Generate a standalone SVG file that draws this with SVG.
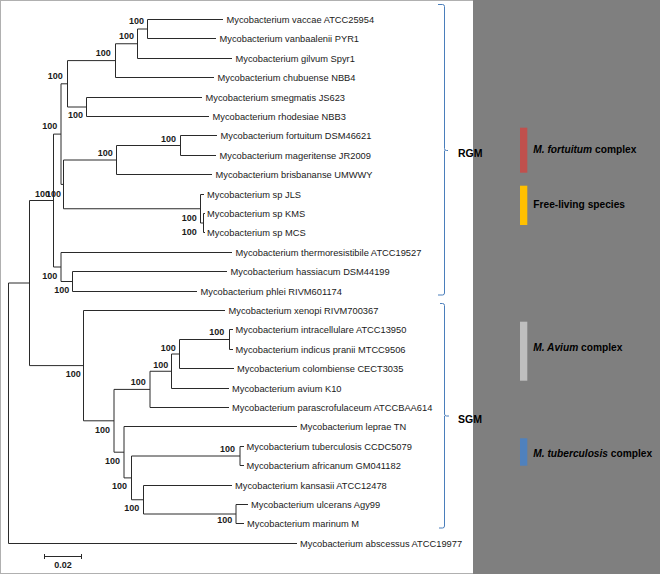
<svg xmlns="http://www.w3.org/2000/svg" width="660" height="574" viewBox="0 0 660 574">
<style>
.br{fill:none;stroke:#2a2a2a;stroke-width:1}
.sp{font-family:"Liberation Sans",Arial,sans-serif;font-size:9.3px;fill:#1a1a1a}
.bs{font-family:"Liberation Sans",Arial,sans-serif;font-size:9px;font-weight:bold;fill:#1a1a1a;text-anchor:end}
.brk{fill:none;stroke:#4a7ebb;stroke-width:1}
.grp{font-family:"Liberation Sans",Arial,sans-serif;font-size:10.5px;font-weight:bold;fill:#000}
.lg{font-family:"Liberation Sans",Arial,sans-serif;font-size:10.2px;font-weight:bold;fill:#000}
</style>
<rect x="0" y="0" width="660" height="574" fill="#ffffff"/>
<rect x="0.5" y="0.5" width="473" height="573" fill="none" stroke="#b0b0b0" stroke-width="1"/>
<rect id="panel" x="473" y="0" width="187" height="574" fill="#7f7f7f"/>

<g id="connectors">
<path class="br" d="M147.5 19.5V38.5M147.5 19.5H223M147.5 38.5H216"/>
<path class="br" d="M137.5 29V58.5M137.5 29H147.5M137.5 58.5H232"/>
<path class="br" d="M115.5 43.75V77.5M115.5 43.75H137.5M115.5 77.5H214"/>
<path class="br" d="M86.5 97.5V116.5M86.5 97.5H202M86.5 116.5H209"/>
<path class="br" d="M67.5 60.6V107M67.5 60.6H115.5M67.5 107H86.5"/>
<path class="br" d="M180.5 135.5V155.5M180.5 135.5H217M180.5 155.5H216"/>
<path class="br" d="M116.5 145.5V174.5M116.5 145.5H180.5M116.5 174.5H212"/>
<path class="br" d="M203.5 213.5V232.5M203.5 213.5H205M203.5 232.5H205"/>
<path class="br" d="M200.5 194.5V223M200.5 194.5H204M200.5 223H203.5"/>
<path class="br" d="M63.5 160V208.75M63.5 160H116.5M63.5 208.75H200.5"/>
<path class="br" d="M61 83.8V184.4M61 83.8H67.5M61 184.4H63.5"/>
<path class="br" d="M72.5 271.5V291.5M72.5 271.5H227M72.5 291.5H197"/>
<path class="br" d="M61 252.5V281.5M61 252.5H232M61 281.5H72.5"/>
<path class="br" d="M53.5 134.1V267M53.5 134.1H61M53.5 267H61"/>
<path class="br" d="M229.5 329.5V349.5M229.5 329.5H233M229.5 349.5H233"/>
<path class="br" d="M179.5 339.5V368.5M179.5 339.5H229.5M179.5 368.5H234"/>
<path class="br" d="M171.5 354V388.5M171.5 354H179.5M171.5 388.5H229"/>
<path class="br" d="M150 371.25V407.5M150 371.25H171.5M150 407.5H229"/>
<path class="br" d="M240 446.5V465.5M240 446.5H244M240 465.5H244"/>
<path class="br" d="M236 504.5V523.5M236 504.5H248M236 523.5H244"/>
<path class="br" d="M143.5 485.5V514M143.5 485.5H232M143.5 514H236"/>
<path class="br" d="M131.5 456V499.75M131.5 456H240M131.5 499.75H143.5"/>
<path class="br" d="M124 426.5V477.9M124 426.5H297M124 477.9H131.5"/>
<path class="br" d="M114 389.4V452.2M114 389.4H150M114 452.2H124"/>
<path class="br" d="M83.5 310.5V420.8M83.5 310.5H225M83.5 420.8H114"/>
<path class="br" d="M29.5 200.5V365.6M29.5 200.5H53.5M29.5 365.6H83.5"/>
<path class="br" d="M8.5 283V543.5M8.5 283H29.5M8.5 543.5H297"/>
</g>

<g id="leaves">
<g id="leaf-vaccae"><text class="sp" x="226.5" y="22.8">Mycobacterium vaccae ATCC25954</text></g>
<g id="leaf-vanbaalenii"><text class="sp" x="219.5" y="41.8">Mycobacterium vanbaalenii PYR1</text></g>
<g id="leaf-gilvum"><text class="sp" x="235.5" y="61.8">Mycobacterium gilvum Spyr1</text></g>
<g id="leaf-chubuense"><text class="sp" x="217.5" y="80.8">Mycobacterium chubuense NBB4</text></g>
<g id="leaf-smegmatis"><text class="sp" x="205.5" y="100.8">Mycobacterium smegmatis JS623</text></g>
<g id="leaf-rhodesiae"><text class="sp" x="212.5" y="119.8">Mycobacterium rhodesiae NBB3</text></g>
<g id="leaf-fortuitum"><text class="sp" x="220.5" y="138.8">Mycobacterium fortuitum DSM46621</text></g>
<g id="leaf-mageritense"><text class="sp" x="219.5" y="158.8">Mycobacterium mageritense JR2009</text></g>
<g id="leaf-brisbananse"><text class="sp" x="215.5" y="177.8">Mycobacterium brisbananse UMWWY</text></g>
<g id="leaf-spJLS"><text class="sp" x="207" y="197.8">Mycobacterium sp JLS</text></g>
<g id="leaf-spKMS"><text class="sp" x="207" y="216.8">Mycobacterium sp KMS</text></g>
<g id="leaf-spMCS"><text class="sp" x="207" y="235.8">Mycobacterium sp MCS</text></g>
<g id="leaf-thermoresistibile"><text class="sp" x="235.5" y="255.8">Mycobacterium thermoresistibile ATCC19527</text></g>
<g id="leaf-hassiacum"><text class="sp" x="230.5" y="274.8">Mycobacterium hassiacum DSM44199</text></g>
<g id="leaf-phlei"><text class="sp" x="200.5" y="294.8">Mycobacterium phlei RIVM601174</text></g>
<g id="leaf-xenopi"><text class="sp" x="228.5" y="313.8">Mycobacterium xenopi RIVM700367</text></g>
<g id="leaf-intracellulare"><text class="sp" x="235.5" y="332.8">Mycobacterium intracellulare ATCC13950</text></g>
<g id="leaf-indicus"><text class="sp" x="235.5" y="352.8">Mycobacterium indicus pranii MTCC9506</text></g>
<g id="leaf-colombiense"><text class="sp" x="237" y="371.8">Mycobacterium colombiense CECT3035</text></g>
<g id="leaf-avium"><text class="sp" x="232" y="391.8">Mycobacterium avium K10</text></g>
<g id="leaf-parascrofulaceum"><text class="sp" x="232" y="410.8">Mycobacterium parascrofulaceum ATCCBAA614</text></g>
<g id="leaf-leprae"><text class="sp" x="300" y="429.8">Mycobacterium leprae TN</text></g>
<g id="leaf-tuberculosis"><text class="sp" x="246.5" y="449.8">Mycobacterium tuberculosis CCDC5079</text></g>
<g id="leaf-africanum"><text class="sp" x="246.5" y="468.8">Mycobacterium africanum GM041182</text></g>
<g id="leaf-kansasii"><text class="sp" x="235" y="488.8">Mycobacterium kansasii ATCC12478</text></g>
<g id="leaf-ulcerans"><text class="sp" x="251" y="507.8">Mycobacterium ulcerans Agy99</text></g>
<g id="leaf-marinum"><text class="sp" x="247" y="526.8">Mycobacterium marinum M</text></g>
<g id="leaf-abscessus"><text class="sp" x="300" y="546.8">Mycobacterium abscessus ATCC19977</text></g>
</g>

<g id="bootstrap">
<g id="node-A"><text class="bs" x="144" y="24">100</text></g>
<g id="node-B"><text class="bs" x="134" y="38.5">100</text></g>
<g id="node-C"><text class="bs" x="110.7" y="56">100</text></g>
<g id="node-D"><text class="bs" x="83" y="118">100</text></g>
<g id="node-E"><text class="bs" x="62.7" y="79">100</text></g>
<g id="node-F"><text class="bs" x="57.3" y="129">100</text></g>
<g id="node-G"><text class="bs" x="176" y="141.5">100</text></g>
<g id="node-H"><text class="bs" x="112.7" y="156">100</text></g>
<g id="node-J"><text class="bs" x="196.7" y="220.7">100</text></g>
<g id="node-I"><text class="bs" x="196.7" y="235">100</text></g>
<g id="node-L"><text class="bs" x="50" y="196.7">100</text></g>
<g id="node-K"><text class="bs" x="61" y="196.7">100</text></g>
<g id="node-N"><text class="bs" x="57.3" y="279">100</text></g>
<g id="node-M"><text class="bs" x="69.3" y="293">100</text></g>
<g id="node-Intr"><text class="bs" x="224.3" y="335">100</text></g>
<g id="node-R"><text class="bs" x="175.7" y="350.7">100</text></g>
<g id="node-S"><text class="bs" x="168.3" y="367.7">100</text></g>
<g id="node-T"><text class="bs" x="145.7" y="385">100</text></g>
<g id="node-P"><text class="bs" x="80.7" y="377.3">100</text></g>
<g id="node-U"><text class="bs" x="110" y="432.7">100</text></g>
<g id="node-V"><text class="bs" x="120" y="464.3">100</text></g>
<g id="node-W"><text class="bs" x="127" y="489">100</text></g>
<g id="node-X"><text class="bs" x="139.3" y="511">100</text></g>
<g id="node-TA"><text class="bs" x="235" y="451.7">100</text></g>
<g id="node-UM"><text class="bs" x="232.3" y="523.3">100</text></g>
</g>

<g id="scale-bar">
<path class="br" d="M44.5 556.5H81.5M44.5 554V559M81.5 554V559"/>
<text class="bs" x="71.7" y="568.3">0.02</text>
</g>

<g id="group-RGM">
<path class="brk" d="M438 4.5H442.5Q444.5 4.5 444.5 6.5V148.5Q444.5 150.5 446.5 150.5H448M444.5 150.5V293Q444.5 295 442.5 295H438"/>
<text class="grp" x="458" y="156.7">RGM</text>
</g>
<g id="group-SGM">
<path class="brk" d="M440 303.5H442.5Q444.5 303.5 444.5 305.5V414Q444.5 416 446.5 416H449M444.5 416V526Q444.5 528 442.5 528H439"/>
<text class="grp" x="458" y="422.7">SGM</text>
</g>

<g id="legend">
<g id="legend-fortuitum"><rect x="520" y="127.7" width="7.3" height="45" fill="#c0504d"/><text class="lg" x="533.3" y="152.7"><tspan font-style="italic">M. fortuitum</tspan> complex</text></g>
<g id="legend-freeliving"><rect x="520" y="185.7" width="7.3" height="39.3" fill="#ffc000"/><text class="lg" x="533.3" y="208.3">Free-living species</text></g>
<g id="legend-avium"><rect x="520" y="321.7" width="7.3" height="59" fill="#bfbfbf"/><text class="lg" x="533.3" y="351"><tspan font-style="italic">M. Avium</tspan> complex</text></g>
<g id="legend-tuberculosis"><rect x="520" y="438.3" width="7.3" height="27.4" fill="#4f81bd"/><text class="lg" x="533.3" y="457.3"><tspan font-style="italic">M. tuberculosis</tspan> complex</text></g>
</g>
</svg>
